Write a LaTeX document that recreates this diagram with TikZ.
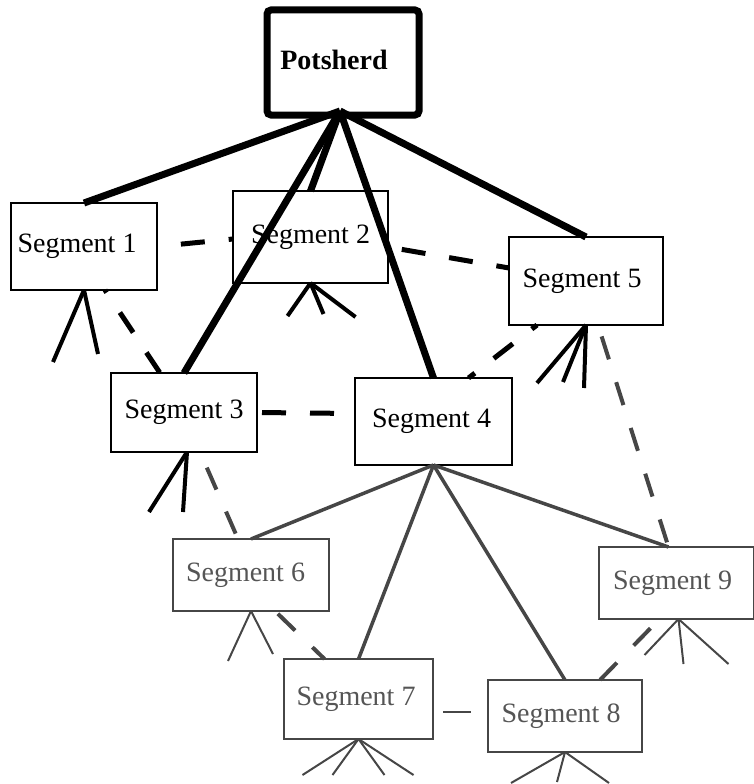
\documentclass[tikz,border=0pt]{standalone}
\usepackage{fontspec}
\setmainfont{Liberation Serif}
\usetikzlibrary{calc}
\definecolor{slate}{HTML}{464646}
\definecolor{slatetext}{HTML}{555555}

\begin{document}
\begin{tikzpicture}[x=1pt,y=-1pt,
  rootbox/.style={draw=black, fill=white, line width=7pt, rounded corners=4pt,
    minimum width=152pt, minimum height=105pt, inner sep=0pt, outer sep=0pt,
    font=\fontsize{28}{30}\selectfont\bfseries},
  segbox/.style={draw=black, fill=white, line width=2.5pt, inner sep=0pt, outer sep=0pt,
    font=\fontsize{28}{30}\selectfont},
  greybox/.style={segbox, draw=slate, line width=2pt, text=slatetext},
  trunk/.style={draw=black, line width=7pt},
  branch/.style={draw=slate, line width=3.5pt},
  tiedash/.style={draw=black, line width=5pt, dash pattern=on 24pt off 24pt},
  greydash/.style={draw=slate, line width=4pt, dash pattern=on 24pt off 24pt},
  rootlet/.style={draw=black, line width=4pt},
  greyrootlet/.style={draw=slate, line width=2pt}
]
\useasboundingbox (0,0) rectangle (754,784);

% boxes
\node[rootbox] (P) at (343,62.5) {\raisebox{5pt}{Potsherd}\kern18pt};
\node[segbox, minimum width=146pt, minimum height=87pt] (S1) at (84,246.5) {Segment 1\kern14pt};
\node[segbox, minimum width=155pt, minimum height=92pt] (S2) at (310.5,237) {Segment 2};
\node[segbox, minimum width=146pt, minimum height=79pt] (S3) at (184,412.5) {Segment 3};
\node[segbox, minimum width=157pt, minimum height=87pt] (S4) at (433.5,421.5) {\raisebox{3pt}{Segment 4}\kern4pt};
\node[segbox, minimum width=154pt, minimum height=88pt] (S5) at (586,281) {Segment 5\kern8pt};
\node[greybox, minimum width=156pt, minimum height=72pt] (S6) at (251,575) {Segment 6\kern11pt};
\node[greybox, minimum width=149pt, minimum height=80pt] (S7) at (358.5,699) {\raisebox{6pt}{Segment 7}\kern5pt};
\node[greybox, minimum width=154pt, minimum height=72pt] (S8) at (565,716) {\raisebox{6pt}{Segment 8}\kern8pt};
\node[greybox, minimum width=155pt, minimum height=72pt] (S9) at (676.5,583) {\raisebox{3pt}{Segment 9}\kern8pt};

% trunks from the potsherd
\coordinate (hub) at ($(P.south)+(-3,-4)$);
\draw[trunk] (hub) -- (S1.north);
\draw[trunk] (hub) -- (S2.north);
\draw[trunk] (hub) -- (S3.north);
\draw[trunk] (hub) -- (S4.north);
\draw[trunk] (hub) -- (S5.north);

% branches from segment 4
\draw[branch] (S4.south) -- (S6.north);
\draw[branch] (S4.south) -- (S7.north);
\draw[branch] (S4.south) -- (S8.north);
\draw[branch] (S4.south) -- ($(S9.north)+(-8,0)$);

% black dashed ties
\draw[tiedash, dash phase=24pt] (S1.east) -- ($(S2.west)+(0,2)$);
\draw[tiedash, dash phase=34pt] ($(S2.east)+(0,10)$) -- ($(S5.west)+(0,-13)$);
\draw[tiedash, dash phase=21pt] ($(S1.south)+(21,0)$) -- ($(S3.north)+(-24,0)$);
\draw[tiedash, dash phase=43pt] (S3.east) -- ($(S4.west)+(0,-8)$);
\draw[tiedash, dash phase=16pt] ($(S4.north)+(35,0)$) -- ($(S5.south)+(-49,0)$);

% grey dashed ties
\draw[greydash, dash phase=31pt] ($(S3.south)+(16,0)$) -- ($(S6.north)+(-13,0)$);
\draw[greydash, dash phase=44pt] ($(S6.south)+(24,0)$) -- ($(S7.north)+(-34,0)$);
\draw[greydash, dash phase=35pt] ($(S9.south)+(-17,0)$) -- ($(S8.north)+(35,0)$);
\draw[greydash, dash phase=36pt] ($(S5.south)+(12,0)$) -- ($(S9.north)+(-8,0)$);
\draw[draw=slate, line width=2pt, dash pattern=on 0pt off 10pt on 28pt off 100pt]
  ($(S7.east)+(0,13)$) -- ($(S8.west)+(0,-4)$);

% rootlets under the segments
\draw[rootlet] (S1.south) -- ++(-31,72);
\draw[rootlet] (S1.south) -- ++(14,64);
\draw[rootlet] (S2.south) -- ++(-23,33);
\draw[rootlet] (S2.south) -- ++(13,31);
\draw[rootlet] (S2.south) -- ++(45,34);
\draw[rootlet] (S5.south) -- ++(-49,58);
\draw[rootlet] (S5.south) -- ++(-23,57);
\draw[rootlet] (S5.south) -- ++(-2,63);
\coordinate (S3r) at ($(S3.south)+(3,0)$);
\draw[rootlet] (S3r) -- ++(-38,60);
\draw[rootlet] (S3r) -- ++(-4,60);
\draw[greyrootlet] (S6.south) -- ++(-23,50);
\draw[greyrootlet] (S6.south) -- ++(22,43);
\draw[greyrootlet] (S7.south) -- ++(-56,36);
\draw[greyrootlet] (S7.south) -- ++(-26,36);
\draw[greyrootlet] (S7.south) -- ++(26,36);
\draw[greyrootlet] (S7.south) -- ++(55,36);
\draw[greyrootlet] (S8.south) -- ++(-54,31);
\draw[greyrootlet] (S8.south) -- ++(-8,30);
\draw[greyrootlet] (S8.south) -- ++(44,31);
\coordinate (S9r) at ($(S9.south)+(2,0)$);
\draw[greyrootlet] (S9r) -- ++(-34,36);
\draw[greyrootlet] (S9r) -- ++(5,45);
\draw[greyrootlet] (S9r) -- ++(50,45);
\end{tikzpicture}
\end{document}
